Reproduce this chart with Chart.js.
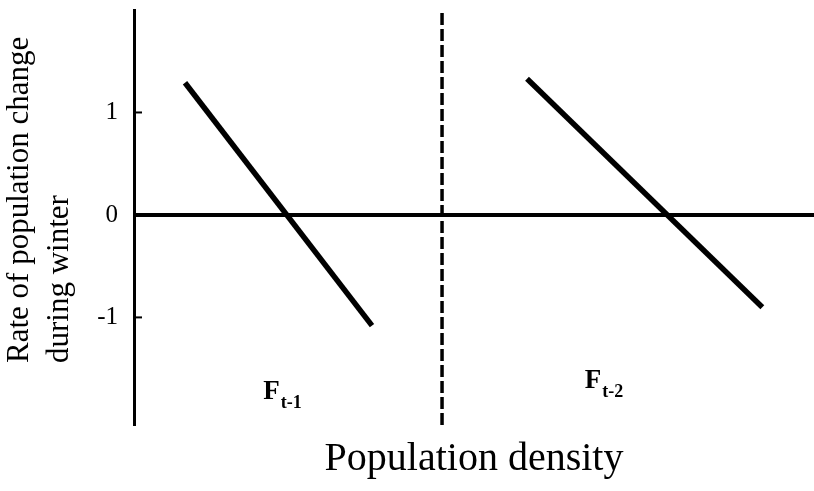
<!DOCTYPE html>
<html>
<head>
<meta charset="utf-8">
<script src="https://cdn.jsdelivr.net/npm/chart.js@4/dist/chart.umd.min.js"></script>
<style>
  html, body { margin: 0; padding: 0; background: #fff; }
  canvas { display: block; }
</style>
</head>
<body>
<canvas id="c" width="814" height="491"></canvas>
<script>
// ---- data ----
const line1X = [0.75, 3.5];
const line1Y = [1.29, -1.08];
const line2X = [5.78, 9.24];
const line2Y = [1.33, -0.90];
const zeroLineX = [0, 10];
const zeroLineY = [0, 0];
const dividerX = [4.53, 4.53];
const dividerY = [-2.05, 2.0];
const yTickValues = [-1, 0, 1];
const yTitleLines = ['Rate of population change', 'during winter'];
const xTitle = 'Population density';
const regionLabels = [
  { main: 'F', sub: 't-1', x: 1.90, y: -1.80 },
  { main: 'F', sub: 't-2', x: 6.63, y: -1.69 }
];

const toPts = (xs, ys) => xs.map((x, i) => ({ x: x, y: ys[i] }));
const SERIF = '"Liberation Serif", "Times New Roman", serif';

const overlay = {
  id: 'overlay',
  afterDraw(chart) {
    const ctx = chart.ctx;
    const xs = chart.scales.x, ys = chart.scales.y;
    ctx.save();
    // inward tick marks
    ctx.strokeStyle = '#000';
    ctx.lineWidth = 2;
    [1, -1].forEach(v => {
      const py = ys.getPixelForValue(v);
      ctx.beginPath();
      ctx.moveTo(xs.left, py);
      ctx.lineTo(xs.left + 8, py);
      ctx.stroke();
    });
    // region labels
    ctx.fillStyle = '#000';
    ctx.textBaseline = 'alphabetic';
    ctx.textAlign = 'left';
    regionLabels.forEach(l => {
      const px = xs.getPixelForValue(l.x);
      const py = ys.getPixelForValue(l.y);
      ctx.font = 'bold 27px ' + SERIF;
      ctx.fillText(l.main, px, py);
      const w = ctx.measureText(l.main).width;
      ctx.font = 'bold 18px ' + SERIF;
      ctx.fillText(l.sub, px + w + 1, py + 9);
    });
    // y-axis title (two lines, start-aligned from bottom)
    ctx.font = '31px ' + SERIF;
    ctx.textBaseline = 'middle';
    ctx.textAlign = 'left';
    const lineX = [20, 60];
    yTitleLines.forEach((t, i) => {
      ctx.save();
      ctx.translate(lineX[i], 363);
      ctx.rotate(-Math.PI / 2);
      ctx.fillText(t, 0, 0);
      ctx.restore();
    });
    ctx.restore();
  }
};

new Chart(document.getElementById('c'), {
  type: 'scatter',
  data: {
    datasets: [
      { data: toPts(zeroLineX, zeroLineY), showLine: true, borderColor: '#000', borderWidth: 4, pointRadius: 0 },
      { data: toPts(dividerX, dividerY), showLine: true, borderColor: '#000', borderWidth: 3.5, borderDash: [12, 4], pointRadius: 0 },
      { data: toPts(line1X, line1Y), showLine: true, borderColor: '#000', borderWidth: 5.5, pointRadius: 0 },
      { data: toPts(line2X, line2Y), showLine: true, borderColor: '#000', borderWidth: 5.5, pointRadius: 0 }
    ]
  },
  options: {
    responsive: false,
    animation: false,
    layout: { padding: { top: 10, right: 0, left: 0, bottom: 0 } },
    plugins: { legend: { display: false }, tooltip: { enabled: false } },
    scales: {
      x: {
        type: 'linear', min: 0, max: 10,
        grid: { display: false, drawTicks: false },
        border: { display: false },
        ticks: { display: false },
        title: {
          display: true, text: xTitle, color: '#000',
          font: { family: SERIF, size: 40, lineHeight: 1.2 },
          padding: { top: 0, bottom: 8 }
        },
        afterFit(s) { s.height = 66; s.paddingLeft = 0; s.paddingRight = 0; }
      },
      y: {
        type: 'linear', min: -2.05, max: 2.0,
        grid: { display: false, drawTicks: false },
        border: { display: true, color: '#000', width: 3 },
        ticks: {
          color: '#000', padding: 16,
          font: { family: SERIF, size: 25 },
          callback: v => String(v)
        },
        afterBuildTicks(s) { s.ticks = yTickValues.map(v => ({ value: v })); },
        afterFit(s) { s.width = 134; s.paddingTop = 0; s.paddingBottom = 0; }
      }
    }
  },
  plugins: [overlay]
});
</script>
</body>
</html>
